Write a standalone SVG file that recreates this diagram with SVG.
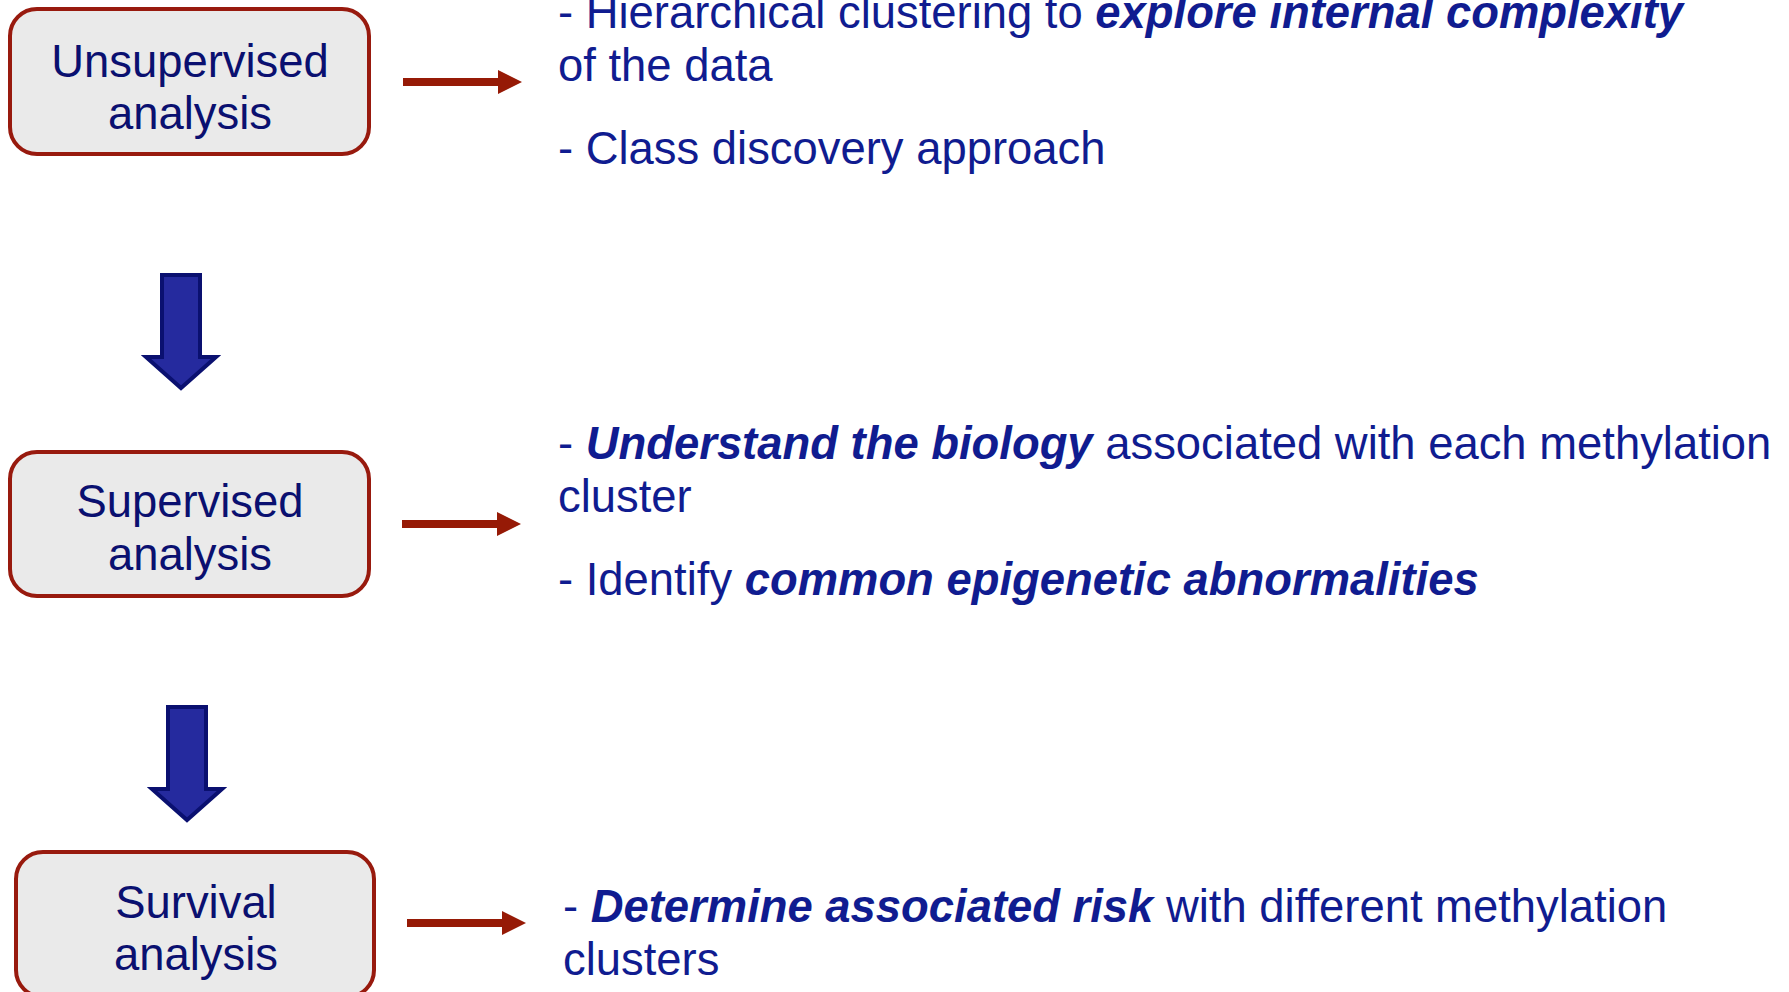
<svg xmlns="http://www.w3.org/2000/svg" width="1789" height="992" viewBox="0 0 1789 992">
  <style>
    .box { fill: #EAEAEA; stroke: #981A0E; stroke-width: 4; }
    .boxlabel { font-family: "Liberation Sans", Arial, sans-serif; font-size: 45.4px; fill: #0A1070; text-anchor: middle; }
    .note { font-family: "Liberation Sans", Arial, sans-serif; font-size: 45.4px; fill: #101C90; }
    .em { font-weight: bold; font-style: italic; }
    .link { stroke: #961A06; stroke-width: 8; fill: none; }
    .step { fill: #252A9E; stroke: #0A1070; stroke-width: 4; stroke-linejoin: miter; }
  </style>
  <defs>
    <marker id="redhead" viewBox="0 0 24 24" markerWidth="24" markerHeight="24" refX="0" refY="12" markerUnits="userSpaceOnUse" orient="auto">
      <path d="M0,0 L24,12 L0,24 z" fill="#961A06"/>
    </marker>
  </defs>

  <rect width="1789" height="992" fill="#FFFFFF"/>

  <!-- stage nodes -->
  <g id="node-unsupervised">
    <rect class="box" x="10" y="9" width="359" height="145" rx="27" ry="27"/>
    <text class="boxlabel" x="190" y="77">Unsupervised</text>
    <text class="boxlabel" x="190" y="129">analysis</text>
  </g>

  <g id="node-supervised">
    <rect class="box" x="10" y="452" width="359" height="144" rx="27" ry="27"/>
    <text class="boxlabel" x="190" y="517">Supervised</text>
    <text class="boxlabel" x="190" y="570">analysis</text>
  </g>

  <g id="node-survival">
    <rect class="box" x="16" y="852" width="358" height="145" rx="27" ry="27"/>
    <text class="boxlabel" x="196" y="918">Survival</text>
    <text class="boxlabel" x="196" y="970">analysis</text>
  </g>

  <!-- descriptions -->
  <g id="node-unsupervised-notes">
    <text class="note" x="558" y="28">- Hierarchical clustering to <tspan class="em">explore internal complexity</tspan></text>
    <text class="note" x="558" y="81">of the data</text>
    <text class="note" x="558" y="164">- Class discovery approach</text>
  </g>

  <g id="node-supervised-notes">
    <text class="note" x="558" y="459">- <tspan class="em">Understand the biology</tspan> associated with each methylation</text>
    <text class="note" x="558" y="512">cluster</text>
    <text class="note" x="558" y="595">- Identify <tspan class="em">common epigenetic abnormalities</tspan></text>
  </g>

  <g id="node-survival-notes">
    <text class="note" x="563" y="922">- <tspan class="em">Determine associated risk</tspan> with different methylation</text>
    <text class="note" x="563" y="975">clusters</text>
  </g>

  <!-- connectors -->
  <g id="connectors">
    <line class="link" x1="403" y1="82" x2="498" y2="82" marker-end="url(#redhead)"/>
    <line class="link" x1="402" y1="524" x2="497" y2="524" marker-end="url(#redhead)"/>
    <line class="link" x1="407" y1="923" x2="502" y2="923" marker-end="url(#redhead)"/>
    <polygon class="step" points="162,275 200,275 200,357 216,357 181,388 146,357 162,357"/>
    <polygon class="step" points="168,707 206,707 206,789 222,789 187,820 152,789 168,789"/>
  </g>
</svg>
